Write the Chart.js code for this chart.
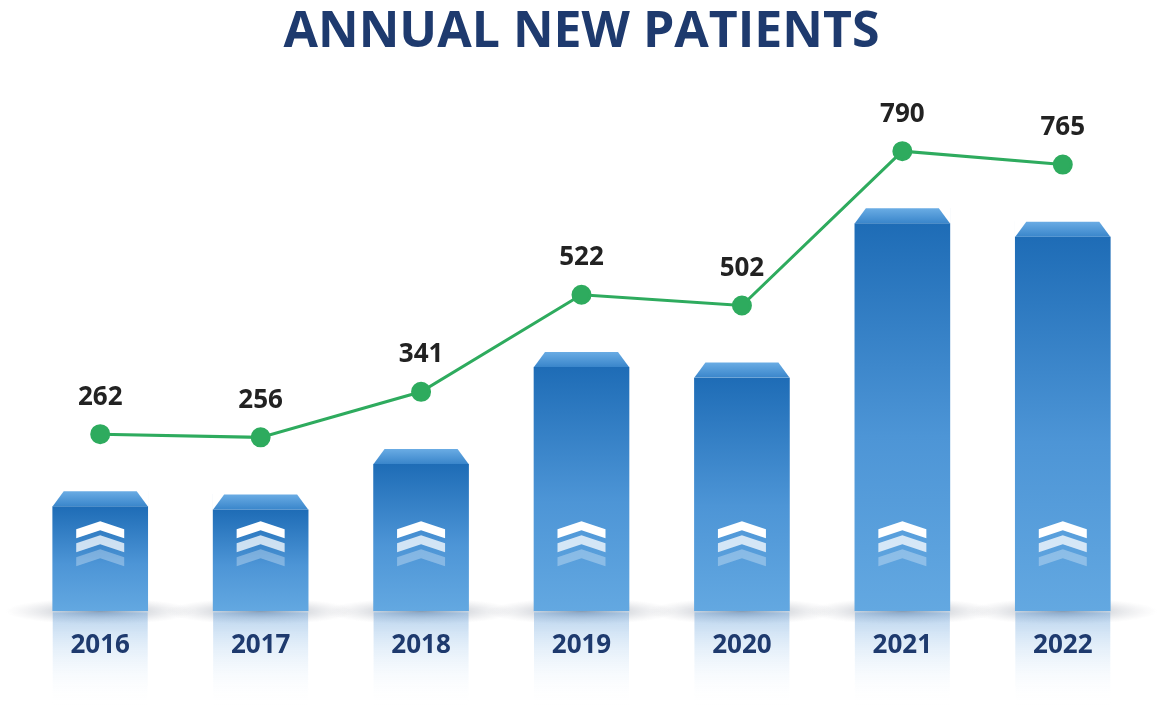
<!DOCTYPE html>
<html>
<head>
<meta charset="utf-8">
<script src="https://cdn.jsdelivr.net/npm/chart.js@4.4.0/dist/chart.umd.min.js"></script>
<style>
  html, body { margin: 0; background: #fff; }
  #wrap { width: 1162px; height: 720px; }
</style>
</head>
<body>
<div id="wrap"><canvas id="chart"></canvas></div>
<script>
// data
const years = ['2016', '2017', '2018', '2019', '2020', '2021', '2022'];
const patients = [262, 256, 341, 522, 502, 790, 765];

const NAVY = '#1e3a6e';
const GREEN = '#2eab5e';
const CAP = 15; // height of the bar "lid"
const Y_MIN = 38, Y_MAX = 1005;

// bars: fade from deep blue at the top to light blue at the foot
function barGradient(ctx) {
    const chart = ctx.chart;
    const y = chart.scales.y;
    if (!y || !chart.chartArea) return '#3d88cc';
    const top = y.getPixelForValue(patients[ctx.dataIndex]) + CAP;
    const bottom = y.getPixelForValue(Y_MIN);
    const g = chart.ctx.createLinearGradient(0, top, 0, bottom);
    g.addColorStop(0, '#1e6cb6');
    g.addColorStop(0.55, '#4d95d6');
    g.addColorStop(1, '#63a8e1');
    return g;
}

function chevron(c, cx, y, a) {
    c.beginPath();
    c.moveTo(cx, y);
    c.lineTo(cx + 24, y + 8);
    c.lineTo(cx + 24, y + 17);
    c.lineTo(cx, y + 9);
    c.lineTo(cx - 24, y + 17);
    c.lineTo(cx - 24, y + 8);
    c.closePath();
    c.fillStyle = 'rgba(255,255,255,' + a + ')';
    c.fill();
}

const boxPlugin = {
    id: 'box3d',
    // floor shadow + reflection, under everything
    beforeDraw(chart) {
        const c = chart.ctx;
        chart.getDatasetMeta(0).data.forEach(bar => {
            const w = bar.width, x = bar.x, base = bar.base;
            c.save();
            const r = c.createRadialGradient(x, base, 2, x, base, w);
            r.addColorStop(0, 'rgba(40,60,90,0.5)');
            r.addColorStop(0.5, 'rgba(90,100,120,0.2)');
            r.addColorStop(1, 'rgba(150,150,160,0)');
            c.translate(x, base);
            c.scale(1, 0.14);
            c.translate(-x, -base);
            c.fillStyle = r;
            c.beginPath();
            c.arc(x, base, w, 0, Math.PI * 2);
            c.fill();
            c.restore();

            const f = c.createLinearGradient(0, base, 0, base + 95);
            f.addColorStop(0, 'rgba(120,170,220,0.55)');
            f.addColorStop(0.35, 'rgba(170,205,238,0.35)');
            f.addColorStop(1, 'rgba(255,255,255,0)');
            c.fillStyle = f;
            c.fillRect(x - w / 2, base + 1, w, 95);
        });
    },
    // lid + chevrons on top of each bar
    afterDatasetDraw(chart, args) {
        if (args.index !== 0) return;
        const c = chart.ctx;
        args.meta.data.forEach(bar => {
            const l = bar.x - bar.width / 2, r = bar.x + bar.width / 2, t = bar.y;
            c.save();
            c.fillStyle = '#fff';
            c.fillRect(l - 1, t - 1, bar.width + 2, CAP + 1);
            const g = c.createLinearGradient(0, t, 0, t + CAP);
            g.addColorStop(0, '#6aace4');
            g.addColorStop(1, '#3a86cb');
            c.fillStyle = g;
            c.beginPath();
            c.moveTo(l + 11, t);
            c.lineTo(r - 11, t);
            c.lineTo(r, t + CAP);
            c.lineTo(l, t + CAP);
            c.closePath();
            c.fill();

            const y0 = bar.base - 90;
            chevron(c, bar.x, y0 + 28, 0.3);
            chevron(c, bar.x, y0 + 14, 0.75);
            chevron(c, bar.x, y0, 1);
            c.restore();
        });
    },
    // value labels over the line points
    afterDatasetsDraw(chart) {
        const c = chart.ctx;
        c.save();
        c.font = 'bold 26px "Open Sans"';
        c.fillStyle = '#222';
        c.textAlign = 'center';
        c.textBaseline = 'middle';
        chart.getDatasetMeta(1).data.forEach((pt, i) => {
            c.fillText(String(patients[i]), pt.x, pt.y - 37);
        });
        c.restore();
    }
};

new Chart(document.getElementById('chart'), {
    type: 'bar',
    data: {
        labels: years,
        datasets: [
            {
                label: 'New patients',
                data: patients,
                base: Y_MIN,
                backgroundColor: barGradient,
                barThickness: 95,
                order: 1
            },
            {
                type: 'line',
                label: 'Trend',
                data: patients,
                yAxisID: 'yLine',
                borderColor: GREEN,
                borderWidth: 3,
                pointRadius: 8.5,
                pointBackgroundColor: GREEN,
                pointBorderColor: GREEN,
                tension: 0,
                order: 0
            }
        ]
    },
    options: {
        responsive: true,
        maintainAspectRatio: false,
        animation: false,
        layout: { padding: { left: 20, right: 19, top: 0, bottom: 47.5 } },
        plugins: {
            legend: { display: false },
            tooltip: { enabled: false },
            title: {
                display: true,
                text: 'ANNUAL NEW PATIENTS',
                color: NAVY,
                font: { family: 'Open Sans', size: 50, weight: 'bold' },
                padding: { top: 3, bottom: 30 }
            }
        },
        scales: {
            x: {
                grid: { display: false },
                border: { display: false },
                ticks: {
                    color: NAVY,
                    padding: 11,
                    maxRotation: 0,
                    font: { family: 'Open Sans', size: 26, weight: 'bold' }
                }
            },
            y: { display: false, min: Y_MIN, max: Y_MAX },
            // the trend line sits ~57px above the lids
            yLine: { display: false, min: Y_MIN - 106.5, max: Y_MAX - 106.5 }
        }
    },
    plugins: [boxPlugin]
});
</script>
</body>
</html>
